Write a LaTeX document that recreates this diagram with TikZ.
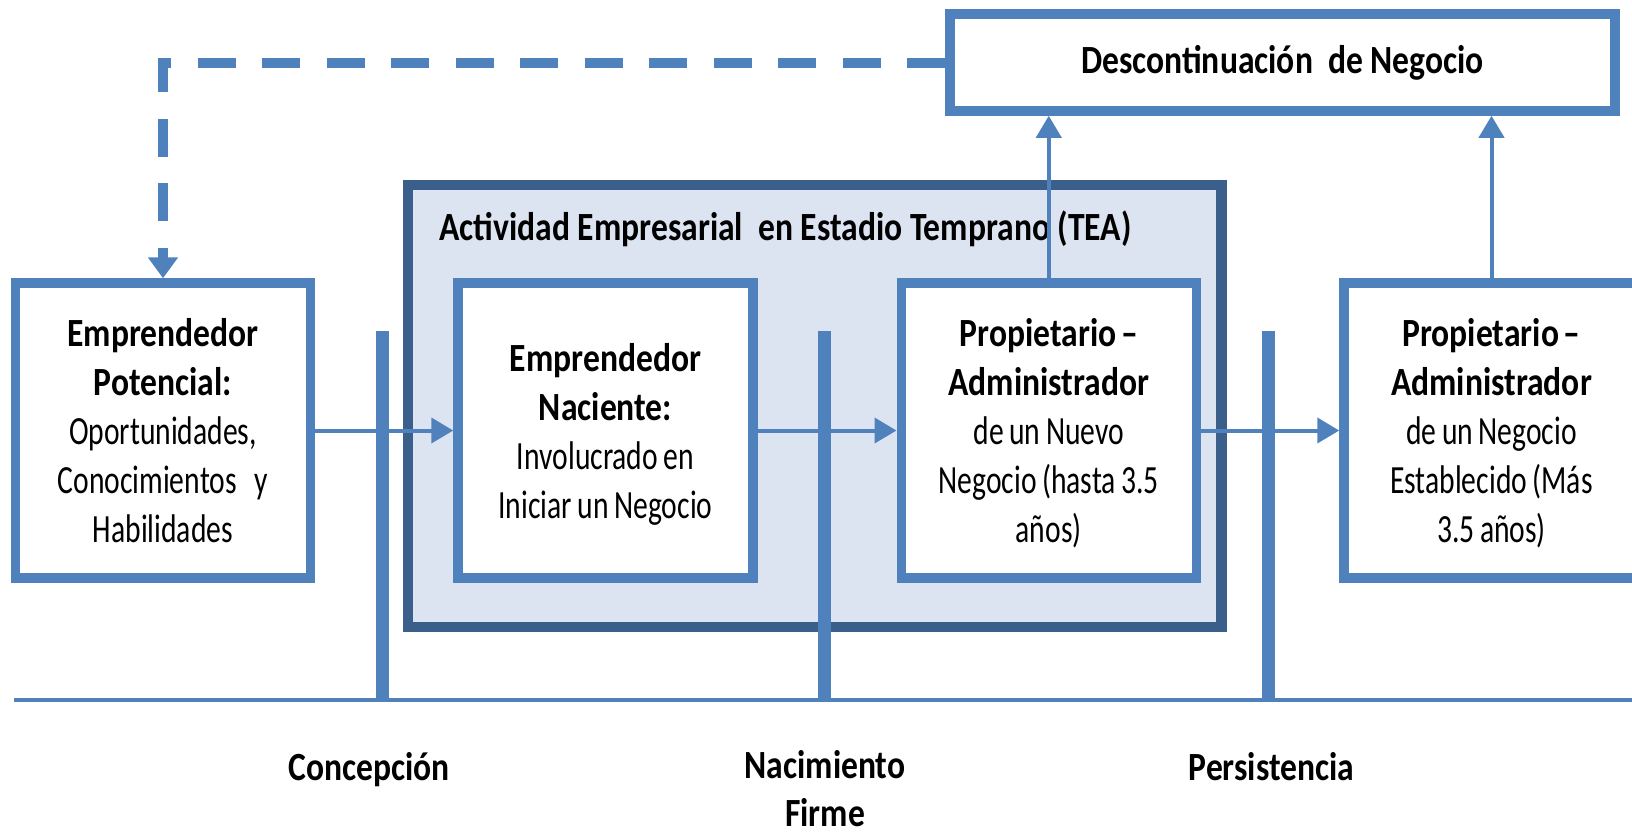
\documentclass[tikz,border=0pt]{standalone}
\usepackage{fontspec}
\setmainfont{Carlito}[FakeStretch=0.74, BoldFeatures={FakeStretch=0.84}]
\usetikzlibrary{arrows.meta}
\definecolor{boxblue}{HTML}{4F81BD}
\definecolor{darkblue}{HTML}{3A5F8B}
\definecolor{teafill}{HTML}{DCE3F1}
\newcommand{\ndash}{\hspace{0.12em}--}
\newcommand{\nodp}[1]{\raisebox{0pt}[\height][0pt]{#1}}
\newcommand{\narrowspaces}{\spaceskip=2.8pt\relax}
\begin{document}
\begin{tikzpicture}[x=0.5pt,y=-0.5pt,
  stagebox/.style={draw=boxblue, line width=4.75pt, fill=white,
    minimum width=147.5pt, minimum height=147.5pt, inner sep=0pt,
    text width=140pt, align=center,
    font=\fontsize{20}{24.5}\selectfont,
    execute at begin node=\narrowspaces},
  teabox/.style={draw=darkblue, fill=teafill, line width=5.25pt,
    minimum width=406.75pt, minimum height=221pt, inner sep=0pt},
  discbox/.style={draw=boxblue, line width=4.75pt, fill=white,
    minimum width=332.5pt, minimum height=48.5pt, inner sep=0pt, font=\fontsize{20}{24.5}\selectfont\bfseries},
  label/.style={font=\fontsize{20}{24}\selectfont\bfseries, align=center, inner sep=0pt},
  flow/.style={draw=boxblue, line width=2pt, -{Triangle[length=11pt,width=12.5pt]}},
  back/.style={draw=boxblue, line width=5pt, dash pattern=on 19pt off 13.25pt,
    -{Triangle[length=10.5pt,width=14.5pt]}},
  bar/.style={draw=boxblue, line width=6.65pt},
  axis/.style={draw=boxblue, line width=1.65pt}
]
\useasboundingbox (0,0) rectangle (1632,832);

% early-stage activity frame
\node[teabox] (tea) at (814.75,406) {};
\node[label, anchor=base west] (teatitle) at (439,240) {Actividad Empresarial\ \ en Estadio Temprano (TEA)};

% discontinuation box
\node[discbox] (desc) at (1282.5,62.5) {Descontinuación\ \ de Negocio};

% stage boxes
\node[stagebox] (ep) at (163,430.5) {\textbf{Emprendedor}\\\textbf{Potencial:}\\Oportunidades,\\Conocimientos\hspace{9pt}y\\Habilidades};
\node[stagebox] (nas) at (605.5,430.5) {\textbf{Emprendedor}\\\textbf{Naciente:}\\Involucrado en\\\nodp{Iniciar un Negocio}};
\node[stagebox] (prop) at (1048.75,430.5) {\textbf{Propietario\ndash}\\\textbf{Administrador}\\de un Nuevo\\Negocio (hasta 3.5\\\nodp{años)}};
\node[stagebox] (est) at (1491.5,430.5) {\textbf{Propietario\ndash}\\\textbf{Administrador}\\de un Negocio\\Establecido (Más\\\nodp{3.5 años)}};

% timeline
\coordinate (axL) at (14,700);
\coordinate (axR) at (1632,700);
\draw[axis] (axL) -- (axR);
\coordinate (b1t) at (382.7,331);
\coordinate (b1b) at (382.7,701.5);
\coordinate (b2t) at (824.6,331);
\coordinate (b2b) at (824.6,701.5);
\coordinate (b3t) at (1268.5,331);
\coordinate (b3b) at (1268.5,701.5);
\draw[bar] (b1t) -- (b1b);
\draw[bar] (b2t) -- (b2b);
\draw[bar] (b3t) -- (b3b);

% connectors
\draw[flow] (ep.east) -- (nas.west);
\draw[flow] (nas.east) -- (prop.west);
\draw[flow] (prop.east) -- (est.west);
\draw[flow] (prop.north) -- (prop.north |- desc.south);
\draw[flow] (est.north) -- (est.north |- desc.south);
\draw[back] (desc.west) -| (ep.north);

% phase labels
\node[label, anchor=base] (lc) at (369,780) {Concepción};
\node[label] (ln) at (825,789) {Nacimiento\\Firme};
\node[label, anchor=base] (lp) at (1271.5,780) {Persistencia};
\end{tikzpicture}
\end{document}
